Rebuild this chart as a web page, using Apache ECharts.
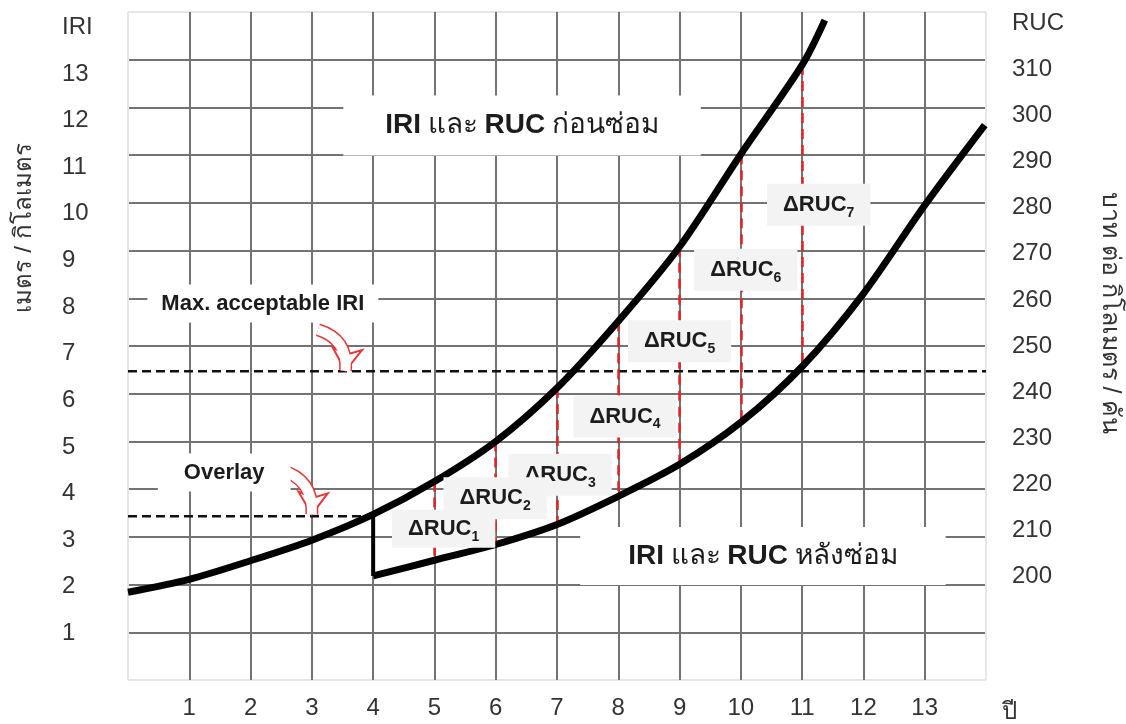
<!DOCTYPE html>
<html>
<head>
<meta charset="utf-8">
<script src="https://cdn.jsdelivr.net/npm/echarts@6/dist/echarts.min.js"></script>
<style>
html, body { margin: 0; background: #fff; }
#main { width: 1126px; height: 724px; }
</style>
</head>
<body>
<div id="main"></div>
<script>
// ticks
var yearTicks = [1, 2, 3, 4, 5, 6, 7, 8, 9, 10, 11, 12, 13];
var iriTicks = [1, 2, 3, 4, 5, 6, 7, 8, 9, 10, 11, 12, 13];
var rucTicks = [200, 210, 220, 230, 240, 250, 260, 270, 280, 290, 300, 310];

// IRI before repair (upper curve)
var beforeYear = [0, 1, 2, 3, 4, 5, 6, 7, 8, 9, 10, 11, 11.37];
var beforeIRI = [1.84, 2.11, 2.5, 2.93, 3.47, 4.16, 5.0, 6.12, 7.52, 9.08, 11.02, 12.89, 13.83];

// IRI after repair (lower curve)
var afterYear = [4, 5, 6, 7, 8, 9, 10, 11, 12, 13, 13.98];
var afterIRI = [2.18, 2.51, 2.84, 3.26, 3.85, 4.52, 5.4, 6.57, 8.1, 9.95, 11.63];

var maxIRI = 6.47;
var overlayIRI = 3.43;
var overlayYear = 4;
var repairYears = [5, 6, 7, 8, 9, 10, 11];

// ΔRUC boxes
var dLabels = ['1', '2', '3', '4', '5', '6', '7'];
var dLabelX = [5.15, 5.99, 7.05, 8.11, 9.0, 10.08, 11.27];
var dLabelY = [3.17, 3.81, 4.3, 5.52, 7.1, 8.6, 9.96];

var FONT = 'Liberation Sans, Arial, sans-serif';

function pairs(xs, ys) {
    return xs.map(function (x, i) { return [x, ys[i]]; });
}
function valueAt(xs, ys, x) {
    return ys[xs.indexOf(x)];
}

var redLines = repairYears.map(function (x) {
    return { coords: [[x, valueAt(beforeYear, beforeIRI, x)], [x, valueAt(afterYear, afterIRI, x)]] };
});

var gridColors = ['#e6e6e6'];
for (var i = 1; i < 14; i++) gridColors.push('#737373');
gridColors.push('#e6e6e6');

var deltaRich = {
    d: { fontFamily: FONT, fontWeight: 'bold', fontSize: 22, color: '#1c1c1c', lineHeight: 30 },
    s: { fontFamily: FONT, fontWeight: 'bold', fontSize: 14, color: '#1c1c1c', lineHeight: 16, verticalAlign: 'bottom' }
};
var titleRich = {
    b: { fontFamily: FONT, fontWeight: 'bold', fontSize: 28, color: '#1c1c1c' },
    n: { fontFamily: FONT, fontSize: 28, color: '#1c1c1c' }
};

var labelItems = [];
// drawn from 7 down to 1 so the lower boxes sit on top
for (var k = dLabels.length - 1; k >= 0; k--) {
    labelItems.push({
        value: [dLabelX[k], dLabelY[k]],
        label: {
            formatter: '{d|ΔRUC}{s|' + dLabels[k] + '}',
            backgroundColor: '#f3f3f3',
            padding: k === 0 ? [4, 16] : [6, 16],
            rich: deltaRich
        }
    });
}
labelItems.push({
    value: [6.43, 11.62],
    label: { formatter: '{b|IRI}  {n|และ}  {b|RUC}  {n|ก่อนซ่อม}', backgroundColor: '#fff', padding: [16, 42], rich: titleRich }
});
labelItems.push({
    value: [10.36, 2.6],
    label: { formatter: '{b|IRI}  {n|และ}  {b|RUC}  {n|หลังซ่อม}', backgroundColor: '#fff', padding: [15, 48], rich: titleRich }
});
labelItems.push({
    value: [2.2, 7.89],
    label: { formatter: 'Max. acceptable IRI', fontFamily: FONT, fontWeight: 'bold', fontSize: 22, color: '#1c1c1c', backgroundColor: '#fff', padding: [8, 14] }
});
labelItems.push({
    value: [1.57, 4.35],
    label: { formatter: 'Overlay', fontFamily: FONT, fontWeight: 'bold', fontSize: 22, color: '#1c1c1c', backgroundColor: '#fff', padding: [8, 26] }
});

var arrows = [
    { coords: [[3.1, 7.34], [3.55, 6.48]] },
    { coords: [[2.48, 4.41], [3.0, 3.47]] }
];

var myChart = echarts.init(document.getElementById('main'));
var option = {
    animation: false,
    grid: { left: 128, right: 140, top: 12, bottom: 43 },
    xAxis: {
        type: 'value',
        min: 0,
        max: 14,
        interval: 1,
        name: 'ปี',
        nameLocation: 'end',
        nameGap: 16,
        nameTextStyle: { fontSize: 24, color: '#333', verticalAlign: 'top', padding: [20, 0, 0, 0] },
        axisLine: { show: false },
        axisTick: { show: false },
        axisLabel: {
            margin: 16,
            fontSize: 24,
            fontFamily: FONT,
            color: '#333',
            formatter: function (v) { return yearTicks.indexOf(v) >= 0 ? String(v) : ''; }
        },
        splitLine: { show: true, lineStyle: { color: gridColors, width: 2 } }
    },
    yAxis: [
        {
            type: 'value',
            min: 0,
            max: 14,
            interval: 1,
            axisLine: { show: false },
            axisTick: { show: false },
            axisLabel: { show: false },
            splitLine: { show: true, lineStyle: { color: gridColors, width: 2 } }
        },
        {
            // label axis on the left (IRI)
            type: 'value',
            position: 'left',
            min: 0,
            max: 14.33,
            interval: 1,
            axisLine: { show: false },
            axisTick: { show: false },
            splitLine: { show: false },
            axisLabel: {
                margin: 66,
                align: 'left',
                fontSize: 24,
                fontFamily: FONT,
                color: '#333',
                formatter: function (v) {
                    if (v === 14) return 'IRI';
                    return iriTicks.indexOf(v) >= 0 ? String(v) : '';
                }
            }
        },
        {
            // RUC axis on the right
            type: 'value',
            position: 'right',
            min: 177.5,
            max: 322.5,
            interval: 2.5,
            axisLine: { show: false },
            axisTick: { show: false },
            splitLine: { show: false },
            axisLabel: {
                margin: 26,
                align: 'left',
                fontSize: 24,
                fontFamily: FONT,
                color: '#333',
                formatter: function (v) {
                    if (v === 320) return 'RUC';
                    return rucTicks.indexOf(v) >= 0 ? String(v) : '';
                }
            }
        }
    ],
    graphic: [
        {
            type: 'text', x: 24, y: 228, rotation: Math.PI / 2,
            style: { text: 'เมตร / กิโลเมตร', fontSize: 24, fontFamily: FONT, fill: '#333', align: 'center', verticalAlign: 'middle' }
        },
        {
            type: 'text', x: 1110, y: 313, rotation: -Math.PI / 2,
            style: { text: 'บาท ต่อ กิโลเมตร / คัน', fontSize: 25, fontFamily: FONT, fill: '#333', align: 'center', verticalAlign: 'middle' }
        }
    ],
    series: [
        {
            name: 'max',
            type: 'line',
            data: [[0, maxIRI], [14, maxIRI]],
            symbol: 'none',
            z: 2,
            lineStyle: { color: '#111', width: 2.5, type: [9, 5] }
        },
        {
            name: 'overlay',
            type: 'line',
            data: [[0, overlayIRI], [overlayYear, overlayIRI]],
            symbol: 'none',
            z: 2,
            lineStyle: { color: '#111', width: 2.5, type: [9, 5] }
        },
        {
            name: 'delta',
            type: 'lines',
            coordinateSystem: 'cartesian2d',
            z: 3,
            data: redLines,
            lineStyle: { color: '#e02424', width: 2.5, type: [10, 6], opacity: 1 }
        },
        {
            name: 'before',
            type: 'line',
            data: pairs(beforeYear, beforeIRI),
            smooth: 0.3,
            symbol: 'none',
            z: 4,
            lineStyle: { color: '#000', width: 7 }
        },
        {
            name: 'after',
            type: 'line',
            data: pairs(afterYear, afterIRI),
            smooth: 0.3,
            symbol: 'none',
            z: 4,
            lineStyle: { color: '#000', width: 7 }
        },
        {
            name: 'drop',
            type: 'line',
            data: [[overlayYear, valueAt(beforeYear, beforeIRI, overlayYear)], [overlayYear, afterIRI[0]]],
            symbol: 'none',
            z: 4,
            lineStyle: { color: '#000', width: 4 }
        },
        {
            name: 'arrowOut',
            type: 'lines',
            coordinateSystem: 'cartesian2d',
            z: 6,
            data: arrows,
            symbol: ['none', 'emptyArrow'],
            symbolSize: [26, 22],
            lineStyle: { color: '#e03a3a', width: 13, curveness: 0.4, opacity: 1 }
        },
        {
            name: 'arrowIn',
            type: 'lines',
            coordinateSystem: 'cartesian2d',
            z: 7,
            data: arrows,
            symbol: 'none',
            lineStyle: { color: '#fff', width: 10, curveness: 0.4, opacity: 1 }
        },
        {
            name: 'labels',
            type: 'scatter',
            z: 10,
            symbolSize: 0,
            silent: true,
            itemStyle: { opacity: 1 },
            data: labelItems,
            label: { show: true, position: 'inside' }
        }
    ]
};
myChart.setOption(option);
</script>
</body>
</html>
